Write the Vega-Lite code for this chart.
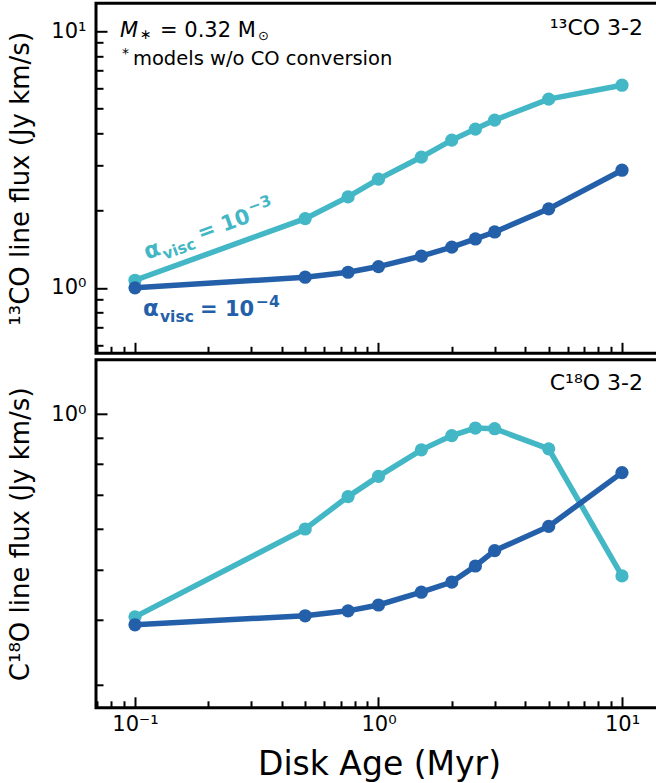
{
  "$schema": "https://vega.github.io/schema/vega-lite/v6.json",
  "autosize": {"type": "none"},
  "padding": {"left": 96, "top": 3.3, "right": 560, "bottom": 779.7},
  "background": "white",
  "config": {
    "font": "DejaVu Sans",
    "view": {"stroke": "black", "strokeWidth": 3},
    "axis": {
      "domain": false, "grid": false, "tickColor": "black", "tickWidth": 2,
      "labelFont": "DejaVu Sans", "labelFontSize": 21, "labelColor": "black",
      "labelOverlap": false, "labelFlush": false,
      "titleFont": "DejaVu Sans", "titleColor": "black", "titleFontWeight": "normal"
    },
    "text": {"font": "DejaVu Sans", "baseline": "alphabetic", "align": "left", "color": "black"}
  },
  "datasets": {
    "flux": [
      {"panel": "13CO", "series": "1e-3", "age": 0.1, "flux": 1.07},
      {"panel": "13CO", "series": "1e-3", "age": 0.5, "flux": 1.86},
      {"panel": "13CO", "series": "1e-3", "age": 0.75, "flux": 2.26},
      {"panel": "13CO", "series": "1e-3", "age": 1.0, "flux": 2.65},
      {"panel": "13CO", "series": "1e-3", "age": 1.5, "flux": 3.23},
      {"panel": "13CO", "series": "1e-3", "age": 2.0, "flux": 3.76},
      {"panel": "13CO", "series": "1e-3", "age": 2.5, "flux": 4.15},
      {"panel": "13CO", "series": "1e-3", "age": 3.0, "flux": 4.5},
      {"panel": "13CO", "series": "1e-3", "age": 5.0, "flux": 5.43},
      {"panel": "13CO", "series": "1e-3", "age": 10.0, "flux": 6.15},
      {"panel": "13CO", "series": "1e-4", "age": 0.1, "flux": 1.0},
      {"panel": "13CO", "series": "1e-4", "age": 0.5, "flux": 1.1},
      {"panel": "13CO", "series": "1e-4", "age": 0.75, "flux": 1.15},
      {"panel": "13CO", "series": "1e-4", "age": 1.0, "flux": 1.21},
      {"panel": "13CO", "series": "1e-4", "age": 1.5, "flux": 1.33},
      {"panel": "13CO", "series": "1e-4", "age": 2.0, "flux": 1.44},
      {"panel": "13CO", "series": "1e-4", "age": 2.5, "flux": 1.55},
      {"panel": "13CO", "series": "1e-4", "age": 3.0, "flux": 1.65},
      {"panel": "13CO", "series": "1e-4", "age": 5.0, "flux": 2.03},
      {"panel": "13CO", "series": "1e-4", "age": 10.0, "flux": 2.87},
      {"panel": "C18O", "series": "1e-3", "age": 0.1, "flux": 0.406},
      {"panel": "C18O", "series": "1e-3", "age": 0.5, "flux": 0.6},
      {"panel": "C18O", "series": "1e-3", "age": 0.75, "flux": 0.693},
      {"panel": "C18O", "series": "1e-3", "age": 1.0, "flux": 0.758},
      {"panel": "C18O", "series": "1e-3", "age": 1.5, "flux": 0.853},
      {"panel": "C18O", "series": "1e-3", "age": 2.0, "flux": 0.909},
      {"panel": "C18O", "series": "1e-3", "age": 2.5, "flux": 0.94},
      {"panel": "C18O", "series": "1e-3", "age": 3.0, "flux": 0.937},
      {"panel": "C18O", "series": "1e-3", "age": 5.0, "flux": 0.857},
      {"panel": "C18O", "series": "1e-3", "age": 10.0, "flux": 0.487},
      {"panel": "C18O", "series": "1e-4", "age": 0.1, "flux": 0.392},
      {"panel": "C18O", "series": "1e-4", "age": 0.5, "flux": 0.408},
      {"panel": "C18O", "series": "1e-4", "age": 0.75, "flux": 0.417},
      {"panel": "C18O", "series": "1e-4", "age": 1.0, "flux": 0.428},
      {"panel": "C18O", "series": "1e-4", "age": 1.5, "flux": 0.453},
      {"panel": "C18O", "series": "1e-4", "age": 2.0, "flux": 0.474},
      {"panel": "C18O", "series": "1e-4", "age": 2.5, "flux": 0.509},
      {"panel": "C18O", "series": "1e-4", "age": 3.0, "flux": 0.545},
      {"panel": "C18O", "series": "1e-4", "age": 5.0, "flux": 0.607},
      {"panel": "C18O", "series": "1e-4", "age": 10.0, "flux": 0.771}
    ]
  },
  "spacing": 6.5,
  "bounds": "flush",
  "resolve": {"scale": {"y": "independent"}},
  "vconcat": [
    {
      "width": 566,
      "height": 350,
      "encoding": {
        "x": {
          "field": "age", "type": "quantitative",
          "scale": {"type": "log", "domain": [0.06917, 14.6], "nice": false},
          "axis": {
            "values": [0.07, 0.08, 0.09, 0.1, 0.2, 0.3, 0.4, 0.5, 0.6, 0.7, 0.8, 0.9, 1, 2, 3, 4, 5, 6, 7, 8, 9, 10],
            "labels": false, "title": null,
            "tickSize": {"condition": {"test": "datum.value == 0.1 || datum.value == 1 || datum.value == 10", "value": -11}, "value": -7}
          }
        },
        "y": {
          "field": "flux", "type": "quantitative",
          "scale": {"type": "log", "domain": [0.556, 12.82], "nice": false},
          "axis": {
            "values": [0.6, 0.7, 0.8, 0.9, 1, 2, 3, 4, 5, 6, 7, 8, 9, 10],
            "labelExpr": "datum.value == 1 ? '10⁰' : datum.value == 10 ? '10¹' : ''",
            "labelPadding": 21,
            "tickSize": {"condition": {"test": "datum.value == 1 || datum.value == 10", "value": -11}, "value": -7},
            "title": "¹³CO line flux (Jy km/s)", "titleFontSize": 26, "titlePadding": 17
          }
        }
      },
      "layer": [
        {
          "data": {"name": "flux"},
          "transform": [{"filter": "datum.panel == '13CO'"}],
          "mark": {"type": "line", "strokeWidth": 5.5},
          "encoding": {"color": {"field": "series", "type": "nominal", "scale": {"domain": ["1e-3", "1e-4"], "range": ["#43b7c5", "#2460a9"]}, "legend": null}}
        },
        {
          "data": {"name": "flux"},
          "transform": [{"filter": "datum.panel == '13CO'"}],
          "mark": {"type": "point", "filled": true, "opacity": 1, "size": 175},
          "encoding": {"color": {"field": "series", "type": "nominal", "scale": {"domain": ["1e-3", "1e-4"], "range": ["#43b7c5", "#2460a9"]}, "legend": null}}
        },
        {"data": {"values": [{"age": 0.0868, "flux": 9.5, "label": "M"}]}, "mark": {"type": "text", "fontSize": 21, "fontStyle": "italic"}, "encoding": {"text": {"field": "label"}}},
        {"data": {"values": [{"age": 0.0868, "flux": 9.5, "label": "∗"}]}, "mark": {"type": "text", "fontSize": 14, "dx": 20, "dy": 2}, "encoding": {"text": {"field": "label"}}},
        {"data": {"values": [{"age": 0.0868, "flux": 9.5, "label": "= 0.32 M"}]}, "mark": {"type": "text", "fontSize": 21, "dx": 40}, "encoding": {"text": {"field": "label"}}},
        {"data": {"values": [{"age": 0.0868, "flux": 9.5, "label": "⊙"}]}, "mark": {"type": "text", "fontSize": 13, "dx": 138, "dy": 3}, "encoding": {"text": {"field": "label"}}},
        {"data": {"values": [{"age": 0.0884, "flux": 7.375, "label": "*"}]}, "mark": {"type": "text", "fontSize": 14, "dy": -7}, "encoding": {"text": {"field": "label"}}},
        {"data": {"values": [{"age": 0.0884, "flux": 7.375, "label": "models w/o CO conversion"}]}, "mark": {"type": "text", "fontSize": 19.5, "dx": 11}, "encoding": {"text": {"field": "label"}}},
        {"data": {"values": [{"age": 12.2, "flux": 9.65, "label": "¹³CO 3-2"}]}, "mark": {"type": "text", "fontSize": 22, "align": "right"}, "encoding": {"text": {"field": "label"}}},
        {"data": {"values": [{"age": 0.112, "flux": 1.285, "label": "α"}]}, "mark": {"type": "text", "fontSize": 23, "fontWeight": "bold", "angle": 340, "color": "#43b7c5"}, "encoding": {"text": {"field": "label"}}},
        {"data": {"values": [{"age": 0.112, "flux": 1.285, "label": "visc"}]}, "mark": {"type": "text", "fontSize": 15.5, "fontWeight": "bold", "angle": 340, "dx": 17, "dy": 6, "color": "#43b7c5"}, "encoding": {"text": {"field": "label"}}},
        {"data": {"values": [{"age": 0.112, "flux": 1.285, "label": "= 10"}]}, "mark": {"type": "text", "fontSize": 21, "fontWeight": "bold", "angle": 340, "dx": 57, "color": "#43b7c5"}, "encoding": {"text": {"field": "label"}}},
        {"data": {"values": [{"age": 0.112, "flux": 1.285, "label": "−3"}]}, "mark": {"type": "text", "fontSize": 15.5, "fontWeight": "bold", "angle": 340, "dx": 113, "dy": -9, "color": "#43b7c5"}, "encoding": {"text": {"field": "label"}}},
        {"data": {"values": [{"age": 0.1079, "flux": 0.778, "label": "α"}]}, "mark": {"type": "text", "fontSize": 23, "fontWeight": "bold", "color": "#2460a9"}, "encoding": {"text": {"field": "label"}}},
        {"data": {"values": [{"age": 0.1079, "flux": 0.778, "label": "visc"}]}, "mark": {"type": "text", "fontSize": 15.5, "fontWeight": "bold", "dx": 17, "dy": 6, "color": "#2460a9"}, "encoding": {"text": {"field": "label"}}},
        {"data": {"values": [{"age": 0.1079, "flux": 0.778, "label": "= 10"}]}, "mark": {"type": "text", "fontSize": 21, "fontWeight": "bold", "dx": 57, "color": "#2460a9"}, "encoding": {"text": {"field": "label"}}},
        {"data": {"values": [{"age": 0.1079, "flux": 0.778, "label": "−4"}]}, "mark": {"type": "text", "fontSize": 15.5, "fontWeight": "bold", "dx": 113, "dy": -9, "color": "#2460a9"}, "encoding": {"text": {"field": "label"}}}
      ]
    },
    {
      "width": 566,
      "height": 348,
      "encoding": {
        "x": {
          "field": "age", "type": "quantitative",
          "scale": {"type": "log", "domain": [0.06917, 14.6], "nice": false},
          "axis": {
            "values": [0.07, 0.08, 0.09, 0.1, 0.2, 0.3, 0.4, 0.5, 0.6, 0.7, 0.8, 0.9, 1, 2, 3, 4, 5, 6, 7, 8, 9, 10],
            "labelExpr": "datum.value == 0.1 ? '10⁻¹' : datum.value == 1 ? '10⁰' : datum.value == 10 ? '10¹' : ''",
            "labelPadding": 17,
            "tickSize": {"condition": {"test": "datum.value == 0.1 || datum.value == 1 || datum.value == 10", "value": -11}, "value": -7},
            "title": "Disk Age (Myr)", "titleFontSize": 33, "titlePadding": 10
          }
        },
        "y": {
          "field": "flux", "type": "quantitative",
          "scale": {"type": "log", "domain": [0.271, 1.273], "nice": false},
          "axis": {
            "values": [0.3, 0.4, 0.5, 0.6, 0.7, 0.8, 0.9, 1],
            "labelExpr": "datum.value == 1 ? '10⁰' : ''",
            "labelPadding": 21,
            "tickSize": {"condition": {"test": "datum.value == 1", "value": -11}, "value": -7},
            "title": "C¹⁸O line flux (Jy km/s)", "titleFontSize": 26, "titlePadding": 17
          }
        }
      },
      "layer": [
        {
          "data": {"name": "flux"},
          "transform": [{"filter": "datum.panel == 'C18O'"}],
          "mark": {"type": "line", "strokeWidth": 5.5},
          "encoding": {"color": {"field": "series", "type": "nominal", "scale": {"domain": ["1e-3", "1e-4"], "range": ["#43b7c5", "#2460a9"]}, "legend": null}}
        },
        {
          "data": {"name": "flux"},
          "transform": [{"filter": "datum.panel == 'C18O'"}],
          "mark": {"type": "point", "filled": true, "opacity": 1, "size": 175},
          "encoding": {"color": {"field": "series", "type": "nominal", "scale": {"domain": ["1e-3", "1e-4"], "range": ["#43b7c5", "#2460a9"]}, "legend": null}}
        },
        {"data": {"values": [{"age": 12.2, "flux": 1.111, "label": "C¹⁸O 3-2"}]}, "mark": {"type": "text", "fontSize": 22, "align": "right"}, "encoding": {"text": {"field": "label"}}}
      ]
    }
  ]
}
